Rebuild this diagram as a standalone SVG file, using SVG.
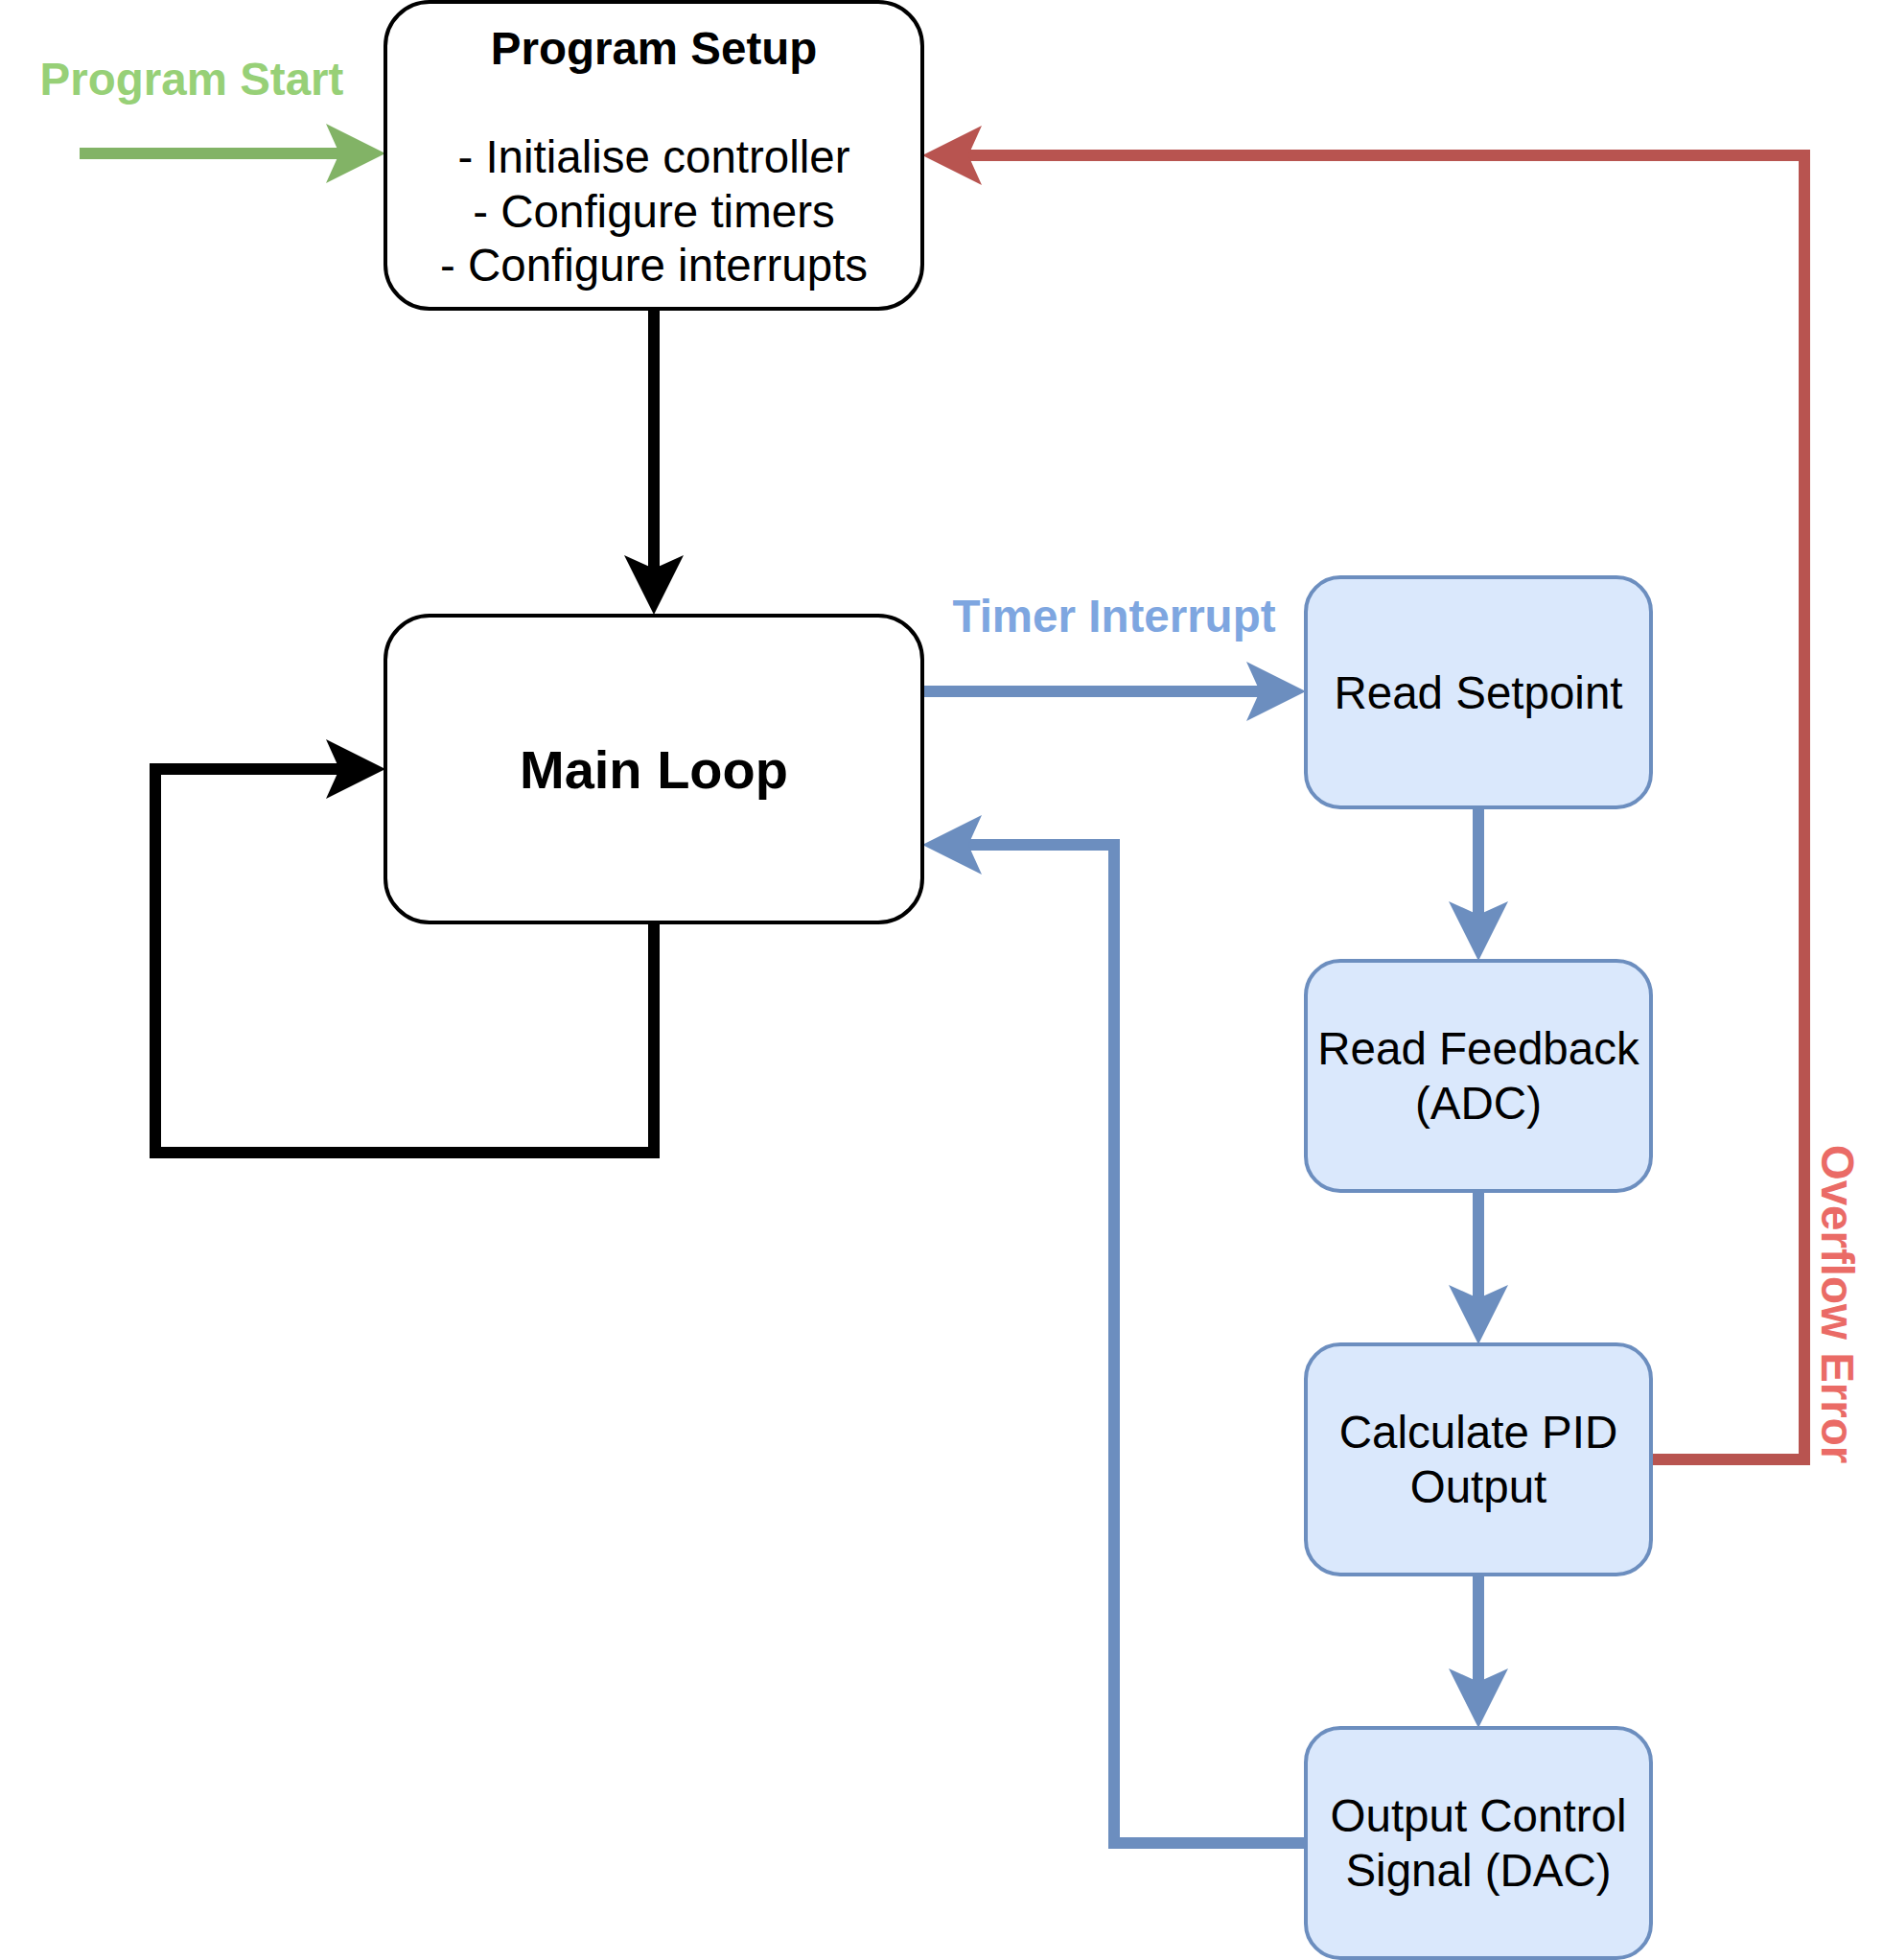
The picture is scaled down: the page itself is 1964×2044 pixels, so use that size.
<svg xmlns="http://www.w3.org/2000/svg" width="1964" height="2044" viewBox="0 0 1964 2044">
<style>
  text { font-family: "Liberation Sans", Arial, Helvetica, sans-serif; font-size: 47.5px; }
  .bold { font-weight: bold; }
  .box { fill: #ffffff; stroke: #000000; stroke-width: 4; }
  .bbox { fill: #dae8fc; stroke: #6c8ebf; stroke-width: 4; }
  .conn { fill: none; stroke-width: 12; stroke-linejoin: miter; stroke-linecap: butt; }
</style>
<defs>
  <marker id="ah-black" markerUnits="userSpaceOnUse" markerWidth="64" markerHeight="64" viewBox="0 0 64 64" refX="14" refY="31" orient="auto" overflow="visible">
    <path d="M62,31 L0,0 L14,31 L0,62 Z" fill="#000000"/>
  </marker>
  <marker id="ah-blue" markerUnits="userSpaceOnUse" markerWidth="64" markerHeight="64" viewBox="0 0 64 64" refX="14" refY="31" orient="auto" overflow="visible">
    <path d="M62,31 L0,0 L14,31 L0,62 Z" fill="#6c8ebf"/>
  </marker>
  <marker id="ah-red" markerUnits="userSpaceOnUse" markerWidth="64" markerHeight="64" viewBox="0 0 64 64" refX="14" refY="31" orient="auto" overflow="visible">
    <path d="M62,31 L0,0 L14,31 L0,62 Z" fill="#b85450"/>
  </marker>
  <marker id="ah-green" markerUnits="userSpaceOnUse" markerWidth="64" markerHeight="64" viewBox="0 0 64 64" refX="14" refY="31" orient="auto" overflow="visible">
    <path d="M62,31 L0,0 L14,31 L0,62 Z" fill="#82b366"/>
  </marker>
</defs>
<rect x="0" y="0" width="1964" height="2044" fill="#ffffff"/>

<g id="connectors">
  <path class="conn" d="M83,160 L354,160" stroke="#82b366" marker-end="url(#ah-green)"/>
  <path class="conn" d="M682,322 L682,593" stroke="#000000" marker-end="url(#ah-black)"/>
  <path class="conn" d="M682,962 L682,1202 L162,1202 L162,802 L354,802" stroke="#000000" marker-end="url(#ah-black)"/>
  <path class="conn" d="M962,721 L1314,721" stroke="#6c8ebf" marker-end="url(#ah-blue)"/>
  <path class="conn" d="M1542,842 L1542,954" stroke="#6c8ebf" marker-end="url(#ah-blue)"/>
  <path class="conn" d="M1542,1242 L1542,1354" stroke="#6c8ebf" marker-end="url(#ah-blue)"/>
  <path class="conn" d="M1542,1642 L1542,1754" stroke="#6c8ebf" marker-end="url(#ah-blue)"/>
  <path class="conn" d="M1362,1922 L1162,1922 L1162,881 L1010,881" stroke="#6c8ebf" marker-end="url(#ah-blue)"/>
  <path class="conn" d="M1722,1522 L1882,1522 L1882,162 L1010,162" stroke="#b85450" marker-end="url(#ah-red)"/>
  <text class="bold" x="200" y="99" text-anchor="middle" fill="#97d077">Program Start</text>
  <text class="bold" x="1162" y="659" text-anchor="middle" fill="#7ea6e0">Timer Interrupt</text>
  <text class="bold" transform="translate(1900,1360) rotate(90)" text-anchor="middle" fill="#ea6b66">Overflow Error</text>
</g>

<g id="program-setup">
  <rect class="box" x="402" y="2" width="560" height="320" rx="46" ry="46"/>
  <text class="bold" x="682" y="67" text-anchor="middle">Program Setup</text>
  <text x="682" y="180" text-anchor="middle">- Initialise controller</text>
  <text x="682" y="236.5" text-anchor="middle">- Configure timers</text>
  <text x="682" y="293" text-anchor="middle">- Configure interrupts</text>
</g>

<g id="main-loop">
  <rect class="box" x="402" y="642" width="560" height="320" rx="46" ry="46"/>
  <text class="bold" x="682" y="822" text-anchor="middle" font-size="56" style="font-size:56px">Main Loop</text>
</g>

<g id="read-setpoint">
  <rect class="bbox" x="1362" y="602" width="360" height="240" rx="36" ry="36"/>
  <text x="1542" y="739" text-anchor="middle">Read Setpoint</text>
</g>

<g id="read-feedback">
  <rect class="bbox" x="1362" y="1002" width="360" height="240" rx="36" ry="36"/>
  <text x="1542" y="1110" text-anchor="middle">Read Feedback</text>
  <text x="1542" y="1167" text-anchor="middle">(ADC)</text>
</g>

<g id="calculate-pid">
  <rect class="bbox" x="1362" y="1402" width="360" height="240" rx="36" ry="36"/>
  <text x="1542" y="1510" text-anchor="middle">Calculate PID</text>
  <text x="1542" y="1567" text-anchor="middle">Output</text>
</g>

<g id="output-control">
  <rect class="bbox" x="1362" y="1802" width="360" height="240" rx="36" ry="36"/>
  <text x="1542" y="1910" text-anchor="middle">Output Control</text>
  <text x="1542" y="1967" text-anchor="middle">Signal (DAC)</text>
</g>
</svg>
